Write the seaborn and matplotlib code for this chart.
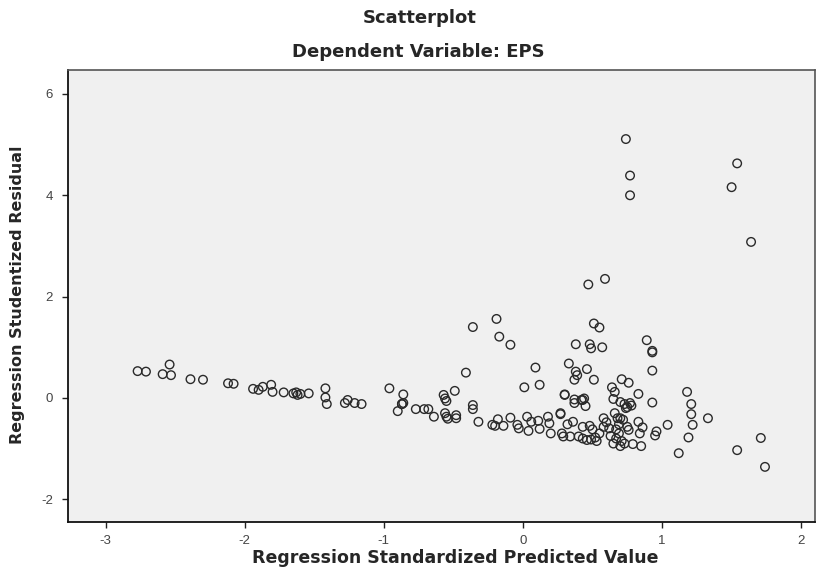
import matplotlib
matplotlib.use("Agg")
import matplotlib.pyplot as plt
import seaborn as sns
import pandas as pd

# Regression standardized predicted value (x) and studentized residual (y)
pred = [
    -2.77, -2.71, -2.54, -2.59, -2.53, -2.39, -2.30, -2.12, -2.08, -1.94, -1.90, -1.87,
    -1.81, -1.80, -1.72, -1.65, -1.63, -1.62, -1.60, -1.54, -1.42, -1.42,
    -1.28, -1.26, -1.21, -1.16,
    -0.96, -0.86, -0.87, -0.86, -0.90, -0.77, -0.71, -0.68, -0.64, -0.57, -0.56, -0.55,
    -0.49, -0.56, -0.55, -0.48, -0.48, -0.54,
    -0.41, -0.36, -0.19, -0.17, -0.09,
    -0.36, -0.36, -0.32, -0.22, -0.20, -0.18, -0.14, -0.09, -0.04, -0.03, 0.03, 0.04,
    0.06, 0.11, 0.12, 0.18, 0.19, 0.20, 0.27, 0.28, 0.29, 0.34, 0.30, 0.32, 0.36, 0.37,
    0.37, 0.37, 0.39, 0.38, 0.42, 0.44, 0.43, 0.43, 0.40,
    0.09, 0.01, 0.12, 0.33, 0.46, 0.51,
    0.38, 0.48, 0.49, 0.57, 0.51, 0.55, 0.47, 0.59, 0.89, 0.93, 0.93, 0.93,
    0.74, 0.77, 0.77, 1.54, 1.50, 1.64,
    0.64, 0.66, 0.71, 0.76, 0.83, 0.93,
    0.65, 0.70, 0.73, 0.75, 0.77, 0.74, 0.78,
    1.18, 1.21, 1.21, 1.22, 1.33, 1.19, 1.12, 1.04, 0.96, 0.95,
    0.83, 0.86, 0.84, 0.79, 0.85, 0.75, 0.76, 0.58, 0.58,
    0.48, 0.50, 0.52, 0.55, 0.53, 0.49, 0.46,
    0.66, 0.68, 0.69, 0.67, 0.69, 0.67, 0.71, 0.73, 0.65, 0.70,
    0.70, 0.72,
    1.71, 1.74, 1.54,
    0.60, 0.62, 0.63, 0.27, 0.30, 0.45, 0.43, -0.87, -1.41,
]
resid = [
    0.53, 0.52, 0.66, 0.47, 0.45, 0.37, 0.36, 0.29, 0.28, 0.18, 0.16, 0.22,
    0.26, 0.12, 0.11, 0.09, 0.11, 0.06, 0.08, 0.09, 0.19, 0.01,
    -0.10, -0.04, -0.10, -0.12,
    0.19, 0.07, -0.12, -0.10, -0.26, -0.22, -0.22, -0.22, -0.37, 0.06, -0.01, -0.06,
    0.14, -0.30, -0.37, -0.34, -0.40, -0.41,
    0.50, 1.40, 1.56, 1.21, 1.05,
    -0.14, -0.22, -0.47, -0.53, -0.55, -0.42, -0.55, -0.39, -0.53, -0.60, -0.37, -0.65,
    -0.47, -0.45, -0.61, -0.37, -0.50, -0.70, -0.30, -0.70, -0.76, -0.76, 0.06, -0.52, -0.47, -0.10,
    -0.03, 0.36, 0.45, 0.52, -0.04, -0.01, -0.57, -0.80, -0.76,
    0.60, 0.21, 0.26, 0.68, 0.57, 0.36,
    1.06, 1.06, 0.98, 1.00, 1.47, 1.39, 2.24, 2.35, 1.14, 0.93, 0.90, 0.54,
    5.11, 4.39, 4.00, 4.63, 4.16, 3.08,
    0.21, 0.12, 0.37, 0.30, 0.08, -0.09,
    -0.02, -0.08, -0.12, -0.18, -0.10, -0.20, -0.15,
    0.12, -0.12, -0.32, -0.53, -0.40, -0.78, -1.09, -0.53, -0.66, -0.74,
    -0.47, -0.58, -0.70, -0.91, -0.95, -0.57, -0.63, -0.40, -0.57,
    -0.55, -0.62, -0.78, -0.70, -0.85, -0.82, -0.83,
    -0.30, -0.40, -0.52, -0.62, -0.70, -0.80, -0.85, -0.90, -0.90, -0.95,
    -0.40, -0.43,
    -0.79, -1.36, -1.03,
    -0.48, -0.60, -0.75, -0.32, 0.07, -0.16, -0.04, -0.12, -0.12,
]
x_ticks = [-3, -2, -1, 0, 1, 2]
y_ticks = [-2, 0, 2, 4, 6]

df = pd.DataFrame({"pred": pred, "resid": resid})

sns.set_style("white")
plt.rcParams['font.family'] = ['Liberation Sans', 'DejaVu Sans']

fig = plt.figure(figsize=(8.3, 5.75), dpi=100)
ax = fig.add_axes([0.082, 0.092, 0.900, 0.786])
ax.set_facecolor("#f0f0f0")

sns.scatterplot(data=df, x="pred", y="resid", ax=ax, marker="o", s=38,
                facecolors="none", edgecolor="#2a2a2a", linewidth=1.0, legend=False)

ax.set_xlim(-3.27, 2.10)
ax.set_ylim(-2.45, 6.47)
ax.set_xticks(x_ticks)
ax.set_yticks(y_ticks)
ax.set_xticklabels([str(t) for t in x_ticks])
ax.set_yticklabels([str(t) for t in y_ticks])
ax.tick_params(axis="both", direction="out", length=4, width=1, color="#222222",
               labelsize=9.5, labelcolor="#444444", bottom=True, left=True)
ax.tick_params(axis="x", pad=5)
ax.tick_params(axis="y", pad=7)

for side in ["left", "bottom"]:
    ax.spines[side].set_color("#111111")
    ax.spines[side].set_linewidth(1.3)
for side in ["top", "right"]:
    ax.spines[side].set_color("#555555")
    ax.spines[side].set_linewidth(1.2)

ax.set_xlabel("Regression Standardized Predicted Value", fontsize=12.5,
              fontweight="bold", family="DejaVu Sans", va="center")
ax.xaxis.set_label_coords(0.518, -0.080)
ax.set_ylabel("Regression Studentized Residual", fontsize=11.5,
              fontweight="bold", family="DejaVu Sans", va="center")
ax.yaxis.set_label_coords(-0.068, 0.502)

fig.text(0.506, 0.969, "Scatterplot", ha="center", va="center",
         fontsize=13, fontweight="bold", family="DejaVu Sans")
fig.text(0.504, 0.910, "Dependent Variable: EPS", ha="center", va="center",
         fontsize=13, fontweight="bold", family="DejaVu Sans")

fig.savefig("out.png", dpi=100, facecolor="white")
